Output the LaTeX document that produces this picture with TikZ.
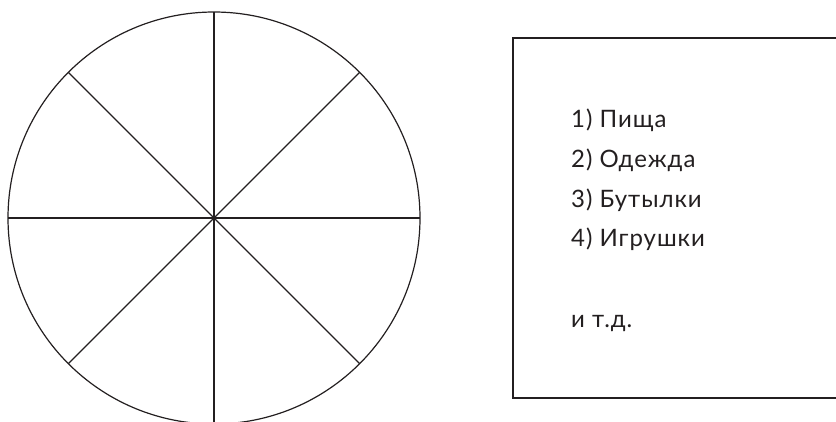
\documentclass[tikz,border=0pt]{standalone}
\usepackage{fontspec}
\setmainfont{Lato}[LetterSpace=4]
\usetikzlibrary{calc}
\definecolor{ink}{HTML}{231F20}
\begin{document}
\begin{tikzpicture}[x=1pt,y=-1pt,
  wheel/.style={draw=ink,line width=1.2pt},
  listbox/.style={draw=ink,line width=1.5pt},
  item/.style={anchor=base west,inner sep=0pt,text=ink,font=\fontsize{24}{27}\selectfont}]
\useasboundingbox (0,0) rectangle (836,421);
\clip (0,0) rectangle (836,421);
\coordinate (c) at (214,218);
\draw[wheel] (c) circle[radius=206];
\foreach \a in {0,45,...,315} {
  \coordinate (e\a) at ($(c)+(\a:206)$);
}
\draw[wheel] (e0) -- (e180);
\draw[wheel] (e90) -- (e270);
\draw[wheel] (e45) -- (e225);
\draw[wheel] (e135) -- (e315);
\draw[listbox] (513,38) rectangle (850,398);
\node[item] (t1) at (571,127) {1) Пища};
\node[item] (t2) at (571,167) {2) Одежда};
\node[item] (t3) at (571,207) {3) Бутылки};
\node[item] (t4) at (571,246) {4) Игрушки};
\node[item] (t5) at (571,327) {и т.д.};
\end{tikzpicture}
\end{document}
